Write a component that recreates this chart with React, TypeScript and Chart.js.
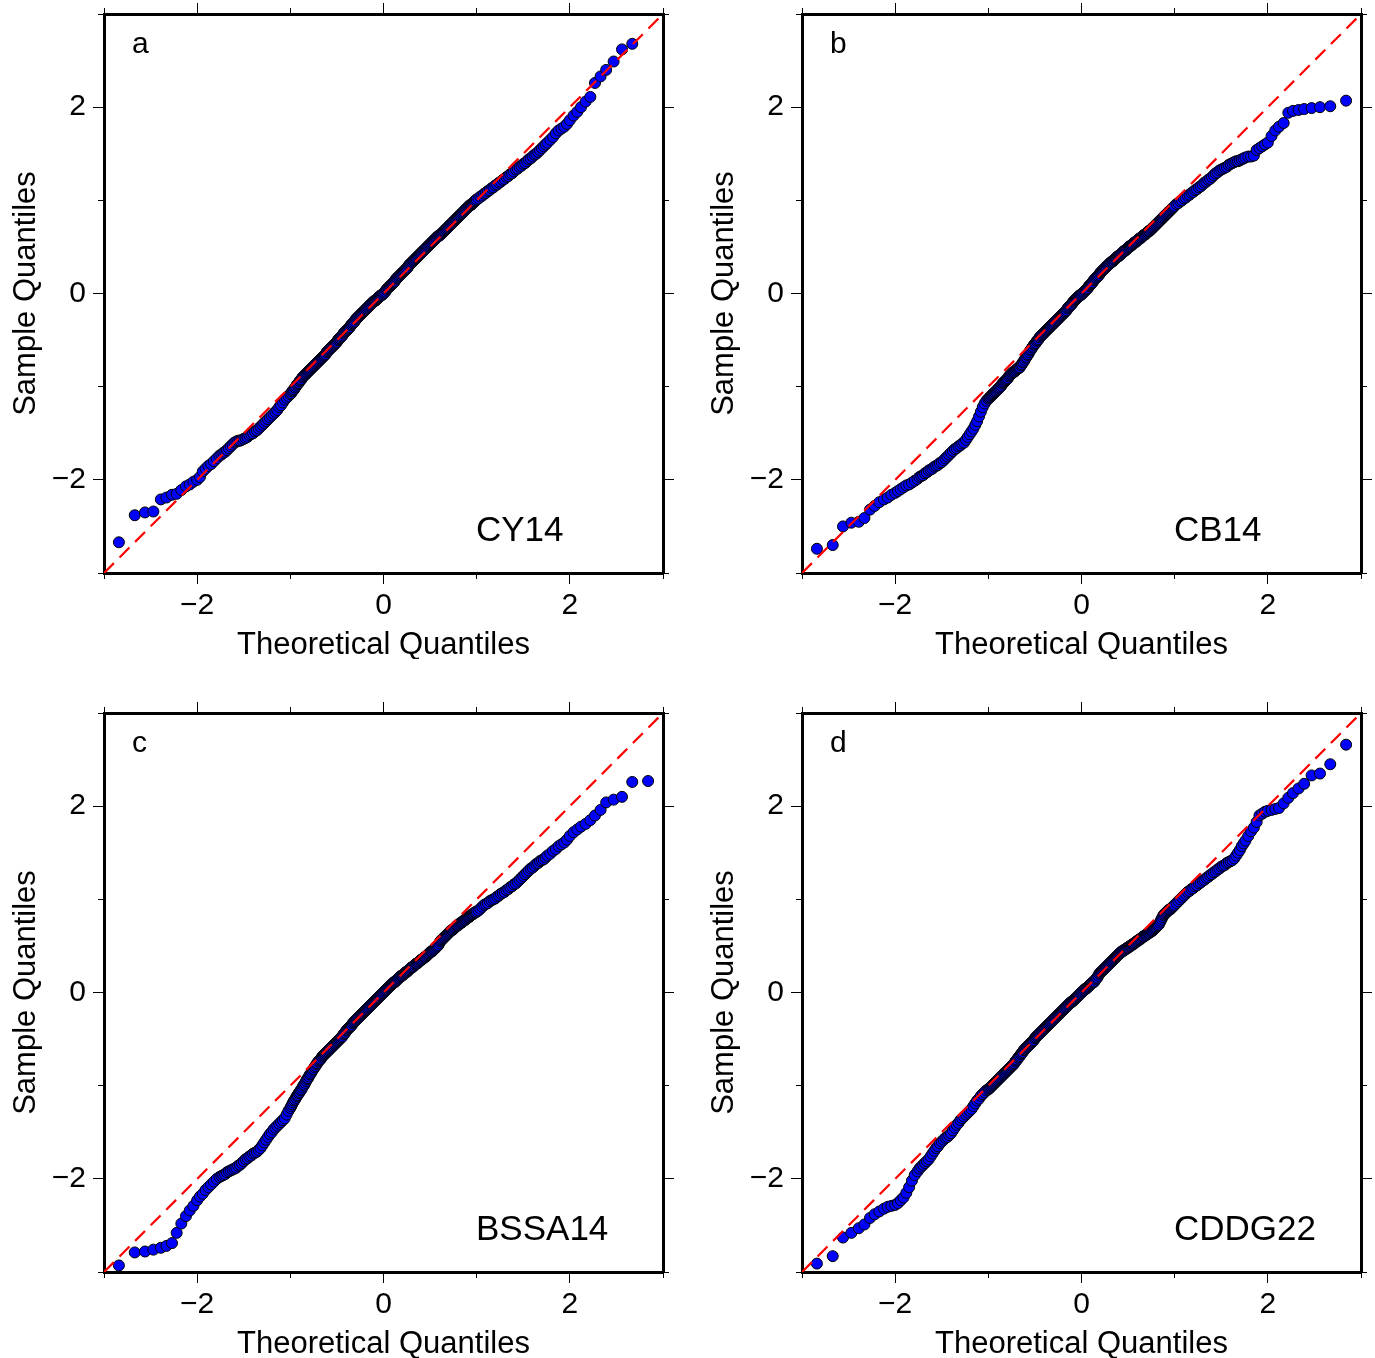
import React, { useEffect, useRef } from 'react';
import { Chart, registerables } from 'chart.js';

Chart.register(...registerables);

// Theoretical quantiles (shared x positions of the sorted samples)
const QUANTILES: number[] = [
  -2.84, -2.67, -2.56, -2.47, -2.39, -2.33, -2.27, -2.22, -2.17, -2.12, -2.08, -2.04,
  -2.0, -1.97, -1.94, -1.91, -1.88, -1.85, -1.82, -1.79, -1.76, -1.74, -1.72, -1.7,
  -1.68, -1.66, -1.64, -1.62, -1.6, -1.58, -1.56, -1.54, -1.52, -1.5, -1.48, -1.46, -1.44, -1.42, -1.4, -1.38, -1.36,
  -1.34, -1.32, -1.3, -1.28, -1.26, -1.24, -1.22, -1.2, -1.18, -1.16, -1.14, -1.12, -1.1, -1.08, -1.06, -1.04, -1.02,
  -1.0, -0.99, -0.98, -0.97, -0.96, -0.95, -0.94, -0.93, -0.92, -0.91,
  -0.9, -0.89, -0.88, -0.87, -0.86, -0.85, -0.84, -0.83, -0.82, -0.81,
  -0.8, -0.79, -0.78, -0.77, -0.76, -0.75, -0.74, -0.73, -0.72, -0.71,
  -0.7, -0.69, -0.68, -0.67, -0.66, -0.65, -0.64, -0.63, -0.62, -0.61,
  -0.6, -0.59, -0.58, -0.57, -0.56, -0.55, -0.54, -0.53, -0.52, -0.51,
  -0.5, -0.49, -0.48, -0.47, -0.46, -0.45, -0.44, -0.43, -0.42, -0.41,
  -0.4, -0.39, -0.38, -0.37, -0.36, -0.35, -0.34, -0.33, -0.32, -0.31,
  -0.3, -0.29, -0.28, -0.27, -0.26, -0.25, -0.24, -0.23, -0.22, -0.21,
  -0.2, -0.19, -0.18, -0.17, -0.16, -0.15, -0.14, -0.13, -0.12, -0.11,
  -0.1, -0.09, -0.08, -0.07, -0.06, -0.05, -0.04, -0.03, -0.02, -0.01,
  0.0, 0.01, 0.02, 0.03, 0.04, 0.05, 0.06, 0.07, 0.08, 0.09,
  0.1, 0.11, 0.12, 0.13, 0.14, 0.15, 0.16, 0.17, 0.18, 0.19,
  0.2, 0.21, 0.22, 0.23, 0.24, 0.25, 0.26, 0.27, 0.28, 0.29,
  0.3, 0.31, 0.32, 0.33, 0.34, 0.35, 0.36, 0.37, 0.38, 0.39,
  0.4, 0.41, 0.42, 0.43, 0.44, 0.45, 0.46, 0.47, 0.48, 0.49,
  0.5, 0.51, 0.52, 0.53, 0.54, 0.55, 0.56, 0.57, 0.58, 0.59,
  0.6, 0.61, 0.62, 0.63, 0.64, 0.65, 0.66, 0.67, 0.68, 0.69,
  0.7, 0.71, 0.72, 0.73, 0.74, 0.75, 0.76, 0.77, 0.78, 0.79,
  0.8, 0.81, 0.82, 0.83, 0.84, 0.85, 0.86, 0.87, 0.88, 0.89,
  0.9, 0.91, 0.92, 0.93, 0.94, 0.95, 0.96, 0.97, 0.98, 0.99,
  1.0,
  1.02, 1.04, 1.06, 1.08, 1.1, 1.12, 1.14, 1.16, 1.18, 1.2, 1.22, 1.24, 1.26, 1.28, 1.3, 1.32, 1.34,
  1.36, 1.38, 1.4, 1.42, 1.44, 1.46, 1.48, 1.5, 1.52, 1.54, 1.56, 1.58, 1.6, 1.62, 1.64, 1.66, 1.68,
  1.7, 1.72, 1.74, 1.76, 1.79, 1.82, 1.85, 1.88, 1.91, 1.94, 1.97, 2.0,
  2.04, 2.08, 2.12, 2.17, 2.22, 2.27, 2.33, 2.39, 2.47, 2.56, 2.67, 2.84,
];

// Sample quantiles, panel a (CY14); the largest sample lies above the plot frame
const CY14: (number | null)[] = [
  -2.67, -2.38, -2.35, -2.34, -2.21, -2.19, -2.16, -2.15, -2.11, -2.07, -2.05, -2.02,
  -2.0, -1.97, -1.91, -1.88, -1.85, -1.83, -1.8, -1.77, -1.74, -1.73, -1.71, -1.7,
  -1.68, -1.66, -1.64, -1.62, -1.6, -1.59, -1.58, -1.58, -1.57, -1.56, -1.55, -1.54, -1.52, -1.51, -1.5, -1.48, -1.47,
  -1.45, -1.43, -1.41, -1.39, -1.37, -1.35, -1.33, -1.31, -1.29, -1.27, -1.25, -1.22, -1.2, -1.17, -1.14, -1.12, -1.1,
  -1.08, -1.07, -1.05, -1.04, -1.03, -1.01, -1.0, -0.98, -0.97, -0.96,
  -0.94, -0.93, -0.92, -0.9, -0.89, -0.88, -0.87, -0.86, -0.85, -0.84,
  -0.83, -0.82, -0.81, -0.8, -0.79, -0.78, -0.77, -0.76, -0.75, -0.74,
  -0.73, -0.72, -0.71, -0.7, -0.69, -0.68, -0.67, -0.66, -0.65, -0.63,
  -0.62, -0.61, -0.6, -0.59, -0.58, -0.57, -0.56, -0.55, -0.54, -0.53,
  -0.52, -0.5, -0.49, -0.48, -0.47, -0.46, -0.45, -0.43, -0.42, -0.41,
  -0.4, -0.39, -0.38, -0.37, -0.36, -0.34, -0.33, -0.32, -0.31, -0.3,
  -0.28, -0.27, -0.26, -0.25, -0.24, -0.23, -0.22, -0.21, -0.2, -0.19,
  -0.18, -0.17, -0.16, -0.15, -0.14, -0.13, -0.12, -0.11, -0.1, -0.09,
  -0.08, -0.08, -0.07, -0.06, -0.05, -0.04, -0.03, -0.02, -0.02, -0.01,
  0.0, 0.01, 0.02, 0.04, 0.05, 0.06, 0.07, 0.08, 0.09, 0.1,
  0.11, 0.12, 0.13, 0.15, 0.16, 0.17, 0.18, 0.19, 0.2, 0.21,
  0.22, 0.23, 0.24, 0.25, 0.26, 0.27, 0.28, 0.3, 0.31, 0.32,
  0.33, 0.34, 0.35, 0.36, 0.37, 0.38, 0.39, 0.4, 0.41, 0.42,
  0.43, 0.44, 0.45, 0.46, 0.47, 0.48, 0.49, 0.5, 0.51, 0.52,
  0.53, 0.54, 0.55, 0.56, 0.57, 0.58, 0.59, 0.6, 0.61, 0.62,
  0.62, 0.63, 0.64, 0.65, 0.66, 0.67, 0.68, 0.69, 0.7, 0.71,
  0.72, 0.73, 0.74, 0.75, 0.76, 0.77, 0.78, 0.79, 0.8, 0.81,
  0.82, 0.83, 0.84, 0.85, 0.86, 0.87, 0.88, 0.89, 0.9, 0.91,
  0.92, 0.93, 0.94, 0.95, 0.95, 0.96, 0.97, 0.98, 0.99, 1.0,
  1.01,
  1.02, 1.04, 1.05, 1.07, 1.08, 1.1, 1.11, 1.13, 1.14, 1.16, 1.17, 1.19, 1.2, 1.22, 1.23, 1.25, 1.26,
  1.28, 1.29, 1.31, 1.33, 1.34, 1.36, 1.37, 1.39, 1.4, 1.42, 1.44, 1.45, 1.47, 1.49, 1.5, 1.52, 1.54,
  1.56, 1.58, 1.6, 1.62, 1.65, 1.68, 1.72, 1.75, 1.77, 1.79, 1.82, 1.86,
  1.91, 1.95, 2.0, 2.06, 2.11, 2.26, 2.33, 2.4, 2.49, 2.62, 2.68, null,
];

// Sample quantiles, panel b (CB14)
const CB14: (number | null)[] = [
  -2.74, -2.7, -2.5, -2.46, -2.45, -2.41, -2.32, -2.28, -2.24, -2.21, -2.19, -2.16,
  -2.14, -2.12, -2.1, -2.08, -2.06, -2.05, -2.03, -2.01, -1.99, -1.97, -1.96, -1.95,
  -1.93, -1.92, -1.9, -1.89, -1.88, -1.86, -1.85, -1.84, -1.82, -1.81, -1.79, -1.77, -1.75, -1.73, -1.71, -1.69, -1.67,
  -1.66, -1.64, -1.63, -1.61, -1.6, -1.57, -1.54, -1.51, -1.48, -1.45, -1.41, -1.37, -1.32, -1.27, -1.22, -1.18, -1.15,
  -1.13, -1.12, -1.11, -1.1, -1.09, -1.08, -1.07, -1.06, -1.05, -1.04,
  -1.03, -1.02, -1.01, -1.0, -0.99, -0.97, -0.96, -0.95, -0.94, -0.93,
  -0.92, -0.91, -0.89, -0.88, -0.87, -0.86, -0.85, -0.84, -0.84, -0.83,
  -0.82, -0.81, -0.8, -0.8, -0.79, -0.77, -0.76, -0.74, -0.73, -0.71,
  -0.69, -0.68, -0.66, -0.65, -0.63, -0.61, -0.6, -0.58, -0.57, -0.55,
  -0.54, -0.53, -0.51, -0.5, -0.49, -0.47, -0.46, -0.45, -0.44, -0.43,
  -0.42, -0.41, -0.4, -0.39, -0.38, -0.37, -0.36, -0.35, -0.34, -0.33,
  -0.32, -0.31, -0.3, -0.29, -0.28, -0.27, -0.26, -0.25, -0.24, -0.23,
  -0.22, -0.21, -0.2, -0.19, -0.18, -0.16, -0.15, -0.14, -0.13, -0.12,
  -0.11, -0.09, -0.08, -0.07, -0.06, -0.05, -0.04, -0.03, -0.02, -0.02,
  -0.01, 0.0, 0.01, 0.02, 0.03, 0.04, 0.05, 0.06, 0.08, 0.09,
  0.1, 0.11, 0.12, 0.14, 0.15, 0.16, 0.17, 0.18, 0.19, 0.2,
  0.22, 0.23, 0.24, 0.25, 0.26, 0.27, 0.28, 0.29, 0.3, 0.31,
  0.32, 0.33, 0.34, 0.34, 0.35, 0.36, 0.37, 0.38, 0.39, 0.4,
  0.4, 0.41, 0.42, 0.43, 0.44, 0.45, 0.46, 0.46, 0.47, 0.48,
  0.49, 0.5, 0.51, 0.51, 0.52, 0.53, 0.54, 0.55, 0.55, 0.56,
  0.57, 0.58, 0.59, 0.59, 0.6, 0.61, 0.62, 0.63, 0.63, 0.64,
  0.65, 0.66, 0.67, 0.67, 0.68, 0.69, 0.7, 0.71, 0.72, 0.73,
  0.74, 0.75, 0.76, 0.77, 0.78, 0.79, 0.8, 0.81, 0.82, 0.83,
  0.84, 0.85, 0.86, 0.87, 0.88, 0.89, 0.9, 0.91, 0.92, 0.93,
  0.94,
  0.96, 0.97, 0.99, 1.0, 1.02, 1.03, 1.05, 1.06, 1.08, 1.09, 1.11, 1.12, 1.14, 1.15, 1.17, 1.19, 1.2,
  1.22, 1.23, 1.25, 1.27, 1.29, 1.3, 1.32, 1.33, 1.34, 1.35, 1.36, 1.38, 1.39, 1.4, 1.41, 1.42, 1.42,
  1.43, 1.44, 1.45, 1.46, 1.47, 1.47, 1.48, 1.54, 1.56, 1.58, 1.6, 1.62,
  1.69, 1.75, 1.79, 1.83, 1.94, 1.96, 1.97, 1.98, 1.99, 2.0, 2.01, 2.07,
];

// Sample quantiles, panel c (BSSA14)
const BSSA14: (number | null)[] = [
  -2.93, -2.79, -2.78, -2.76, -2.74, -2.72, -2.69, -2.58, -2.48, -2.4, -2.34, -2.29,
  -2.23, -2.19, -2.16, -2.12, -2.09, -2.06, -2.03, -2.0, -1.98, -1.97, -1.96, -1.95,
  -1.93, -1.92, -1.91, -1.9, -1.89, -1.88, -1.86, -1.85, -1.83, -1.81, -1.79, -1.78, -1.76, -1.75, -1.73, -1.72, -1.71,
  -1.69, -1.67, -1.64, -1.61, -1.58, -1.55, -1.52, -1.5, -1.47, -1.45, -1.43, -1.41, -1.39, -1.37, -1.35, -1.31, -1.27,
  -1.24, -1.22, -1.2, -1.18, -1.16, -1.15, -1.13, -1.11, -1.1, -1.08,
  -1.07, -1.05, -1.04, -1.02, -1.0, -0.99, -0.97, -0.95, -0.93, -0.92,
  -0.9, -0.88, -0.87, -0.85, -0.83, -0.82, -0.8, -0.79, -0.77, -0.76,
  -0.74, -0.73, -0.72, -0.71, -0.69, -0.68, -0.67, -0.66, -0.65, -0.64,
  -0.63, -0.62, -0.61, -0.6, -0.59, -0.58, -0.57, -0.56, -0.55, -0.54,
  -0.53, -0.52, -0.51, -0.5, -0.49, -0.48, -0.47, -0.45, -0.44, -0.43,
  -0.41, -0.4, -0.39, -0.38, -0.37, -0.36, -0.35, -0.33, -0.32, -0.31,
  -0.3, -0.29, -0.28, -0.27, -0.26, -0.25, -0.24, -0.23, -0.22, -0.21,
  -0.2, -0.19, -0.18, -0.17, -0.16, -0.15, -0.14, -0.13, -0.12, -0.11,
  -0.1, -0.09, -0.08, -0.07, -0.06, -0.05, -0.04, -0.03, -0.02, -0.01,
  0.0, 0.01, 0.02, 0.03, 0.04, 0.05, 0.06, 0.07, 0.08, 0.09,
  0.1, 0.11, 0.11, 0.12, 0.13, 0.14, 0.15, 0.16, 0.17, 0.18,
  0.18, 0.19, 0.2, 0.21, 0.22, 0.22, 0.23, 0.24, 0.25, 0.26,
  0.27, 0.27, 0.28, 0.29, 0.3, 0.31, 0.31, 0.32, 0.33, 0.34,
  0.35, 0.35, 0.36, 0.37, 0.38, 0.38, 0.39, 0.4, 0.41, 0.42,
  0.43, 0.44, 0.44, 0.45, 0.46, 0.47, 0.48, 0.49, 0.5, 0.51,
  0.53, 0.55, 0.56, 0.57, 0.58, 0.59, 0.6, 0.61, 0.62, 0.63,
  0.64, 0.65, 0.66, 0.67, 0.67, 0.68, 0.69, 0.7, 0.71, 0.72,
  0.72, 0.73, 0.74, 0.75, 0.75, 0.76, 0.77, 0.78, 0.78, 0.79,
  0.8, 0.81, 0.81, 0.82, 0.83, 0.84, 0.84, 0.85, 0.86, 0.86,
  0.87,
  0.88, 0.9, 0.92, 0.94, 0.95, 0.96, 0.98, 0.99, 1.0, 1.01, 1.03, 1.04, 1.06, 1.07, 1.08, 1.1, 1.11,
  1.13, 1.14, 1.16, 1.17, 1.19, 1.21, 1.23, 1.25, 1.27, 1.29, 1.31, 1.33, 1.34, 1.36, 1.38, 1.39, 1.41,
  1.42, 1.43, 1.45, 1.47, 1.49, 1.52, 1.54, 1.57, 1.59, 1.61, 1.64, 1.68,
  1.72, 1.75, 1.78, 1.81, 1.85, 1.9, 1.96, 2.04, 2.07, 2.1, 2.26, 2.27,
];

// Sample quantiles, panel d (CDDG22)
const CDDG22: (number | null)[] = [
  -2.91, -2.83, -2.63, -2.58, -2.53, -2.49, -2.42, -2.38, -2.35, -2.32, -2.3, -2.29,
  -2.28, -2.26, -2.23, -2.2, -2.15, -2.09, -2.02, -1.96, -1.92, -1.89, -1.87, -1.85,
  -1.83, -1.81, -1.79, -1.76, -1.73, -1.7, -1.67, -1.65, -1.62, -1.6, -1.58, -1.56, -1.55, -1.53, -1.51, -1.48, -1.45,
  -1.42, -1.4, -1.37, -1.35, -1.33, -1.31, -1.29, -1.27, -1.25, -1.22, -1.19, -1.16, -1.14, -1.11, -1.09, -1.07, -1.05,
  -1.04, -1.03, -1.02, -1.01, -1.0, -0.99, -0.98, -0.97, -0.96, -0.95,
  -0.94, -0.93, -0.92, -0.91, -0.9, -0.89, -0.88, -0.87, -0.86, -0.85,
  -0.84, -0.83, -0.82, -0.81, -0.8, -0.79, -0.78, -0.77, -0.76, -0.74,
  -0.73, -0.72, -0.7, -0.69, -0.68, -0.66, -0.65, -0.64, -0.62, -0.61,
  -0.6, -0.59, -0.58, -0.57, -0.56, -0.55, -0.54, -0.53, -0.52, -0.51,
  -0.49, -0.48, -0.47, -0.46, -0.45, -0.44, -0.43, -0.42, -0.41, -0.4,
  -0.39, -0.38, -0.37, -0.36, -0.35, -0.34, -0.33, -0.32, -0.31, -0.3,
  -0.29, -0.28, -0.27, -0.26, -0.25, -0.24, -0.23, -0.22, -0.21, -0.2,
  -0.19, -0.18, -0.17, -0.16, -0.15, -0.14, -0.13, -0.12, -0.11, -0.1,
  -0.1, -0.09, -0.08, -0.07, -0.06, -0.05, -0.04, -0.03, -0.02, -0.01,
  0.0, 0.01, 0.02, 0.03, 0.04, 0.04, 0.05, 0.06, 0.07, 0.08,
  0.09, 0.1, 0.11, 0.11, 0.12, 0.14, 0.15, 0.16, 0.18, 0.2,
  0.21, 0.22, 0.23, 0.24, 0.25, 0.26, 0.27, 0.28, 0.29, 0.3,
  0.31, 0.32, 0.33, 0.34, 0.35, 0.36, 0.37, 0.38, 0.39, 0.4,
  0.41, 0.42, 0.43, 0.44, 0.44, 0.45, 0.46, 0.46, 0.47, 0.48,
  0.48, 0.49, 0.5, 0.5, 0.51, 0.52, 0.52, 0.53, 0.54, 0.55,
  0.55, 0.56, 0.57, 0.57, 0.58, 0.59, 0.6, 0.6, 0.61, 0.62,
  0.62, 0.63, 0.64, 0.64, 0.65, 0.66, 0.66, 0.67, 0.68, 0.69,
  0.7, 0.71, 0.72, 0.73, 0.75, 0.77, 0.79, 0.81, 0.83, 0.84,
  0.85, 0.86, 0.87, 0.88, 0.89, 0.89, 0.9, 0.91, 0.92, 0.93,
  0.94,
  0.96, 0.98, 1.0, 1.02, 1.04, 1.06, 1.08, 1.09, 1.11, 1.12, 1.14, 1.15, 1.17, 1.18, 1.2, 1.21, 1.23,
  1.24, 1.26, 1.27, 1.29, 1.3, 1.32, 1.33, 1.35, 1.36, 1.37, 1.39, 1.4, 1.41, 1.42, 1.44, 1.47, 1.5,
  1.53, 1.57, 1.6, 1.63, 1.68, 1.73, 1.77, 1.83, 1.9, 1.92, 1.94, 1.95,
  1.96, 1.97, 1.98, 2.03, 2.09, 2.14, 2.19, 2.24, 2.33, 2.35, 2.45, 2.66,
];

const AXIS_MIN = -3;
const AXIS_MAX = 3;
const REF_LINE = [AXIS_MIN, AXIS_MAX];

const PANELS = [
  { letter: 'a', name: 'CY14', values: CY14, left: 0, top: 0 },
  { letter: 'b', name: 'CB14', values: CB14, left: 698, top: 0 },
  { letter: 'c', name: 'BSSA14', values: BSSA14, left: 0, top: 699 },
  { letter: 'd', name: 'CDDG22', values: CDDG22, left: 698, top: 699 },
];

const FONT = '"Liberation Sans", Arial, Helvetica, sans-serif';
const CANVAS_W = 676;
const CANVAS_H = 659;
const BOX: Record<string, number> = { left: 104, right: 13, top: 14, bottom: 86 };

function fmtTick(v: number): string {
  if (v % 2 !== 0) return '';
  return v < 0 ? '\u2212' + String(-v) : String(v);
}

function makeAxis(position: string, major: boolean, labels: boolean, title?: any) {
  const horizontal = position === 'top' || position === 'bottom';
  return {
    type: 'linear',
    position,
    min: AXIS_MIN,
    max: AXIS_MAX,
    weight: major ? 2 : 1,
    ticks: {
      display: major && labels,
      stepSize: 1,
      autoSkip: false,
      includeBounds: true,
      maxRotation: 0,
      minRotation: 0,
      padding: horizontal ? 4 : 7,
      color: '#000',
      font: { family: FONT, size: 30, lineHeight: 1.2 },
      callback: (v: any) => fmtTick(Number(v)),
    },
    grid: {
      display: true,
      drawOnChartArea: false,
      drawTicks: true,
      tickLength: major ? 11 : 6,
      tickWidth: 1,
      tickColor: major
        ? (ctx: any) => (ctx.tick && Math.abs(ctx.tick.value) % 2 === 0 ? '#000' : 'rgba(0,0,0,0)')
        : '#000',
    },
    border: { display: major, width: 3, color: '#000' },
    title: title || { display: false },
    afterFit: (scale: any) => {
      const s = major ? BOX[position] : 0;
      if (horizontal) scale.height = s;
      else scale.width = s;
      scale.paddingLeft = 0;
      scale.paddingRight = 0;
      scale.paddingTop = 0;
      scale.paddingBottom = 0;
    },
  };
}

const panelTextPlugin = {
  id: 'panelText',
  afterDraw(chart: any, _args: any, opts: any) {
    const { ctx, chartArea } = chart;
    ctx.save();
    ctx.fillStyle = '#000';
    ctx.textAlign = 'left';
    ctx.textBaseline = 'alphabetic';
    ctx.font = `30px ${FONT}`;
    ctx.fillText(opts.letter, chartArea.left + 28, chartArea.top + 39);
    ctx.font = `35px ${FONT}`;
    ctx.fillText(opts.name, chartArea.left + 372, chartArea.top + 527);
    ctx.restore();
  },
};

function QQPanel({ letter, name, values }: { letter: string; name: string; values: (number | null)[] }) {
  const ref = useRef<HTMLCanvasElement>(null);
  useEffect(() => {
    if (!ref.current) return;
    const pts = QUANTILES.map((x, i) => ({ x, y: values[i] })).filter((p) => p.y !== null && p.y !== undefined);
    const titleFont = { family: FONT, size: 31, lineHeight: 1 };
    const chart = new Chart(ref.current, {
      type: 'scatter',
      data: {
        datasets: [
          {
            type: 'line',
            data: REF_LINE.map((v) => ({ x: v, y: v })),
            borderColor: '#ff0000',
            borderWidth: 2.2,
            borderDash: [14, 8],
            pointRadius: 0,
            fill: false,
            order: 0,
          } as any,
          {
            type: 'scatter',
            data: pts,
            backgroundColor: '#0000ff',
            borderColor: '#000000',
            borderWidth: 1,
            pointRadius: 5.5,
            order: 1,
          } as any,
        ],
      },
      options: {
        responsive: false,
        maintainAspectRatio: false,
        devicePixelRatio: 1,
        animation: false,
        events: [],
        layout: { padding: 0, autoPadding: false } as any,
        plugins: {
          legend: { display: false },
          tooltip: { enabled: false },
          panelText: { letter, name },
        } as any,
        scales: {
          xm: makeAxis('bottom', false, false),
          x: makeAxis('bottom', true, true, {
            display: true,
            text: 'Theoretical Quantiles',
            color: '#000',
            font: titleFont,
            padding: { top: 0, bottom: -1.5 },
          }),
          ym: makeAxis('left', false, false),
          y: makeAxis('left', true, true, {
            display: true,
            text: 'Sample Quantiles',
            color: '#000',
            font: titleFont,
            padding: { top: 10.5, bottom: 0 },
          }),
          xtm: makeAxis('top', false, false),
          xt: makeAxis('top', true, false),
          yrm: makeAxis('right', false, false),
          yr: makeAxis('right', true, false),
        } as any,
      },
      plugins: [panelTextPlugin as any],
    });
    return () => chart.destroy();
  }, [letter, name, values]);
  return (
    <canvas
      ref={ref}
      width={CANVAS_W}
      height={CANVAS_H}
      style={{ display: 'block', width: CANVAS_W, height: CANVAS_H }}
    />
  );
}

export default function App() {
  return (
    <div
      style={{
        position: 'absolute',
        left: 0,
        top: 0,
        width: 1375,
        height: 1358,
        overflow: 'hidden',
        background: '#ffffff',
      }}
    >
      {PANELS.map((p) => (
        <div
          key={p.letter}
          style={{ position: 'absolute', left: p.left, top: p.top, width: CANVAS_W, height: CANVAS_H }}
        >
          <QQPanel letter={p.letter} name={p.name} values={p.values} />
        </div>
      ))}
    </div>
  );
}
